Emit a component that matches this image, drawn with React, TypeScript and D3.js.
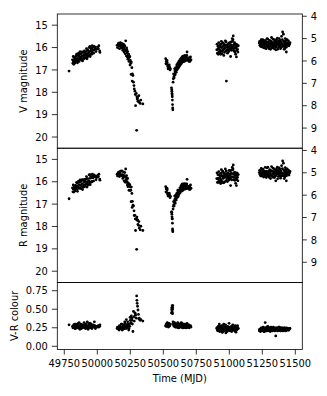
import React from "react";
import * as d3 from "d3";

// one row per night in each observing season: MJD, V and R magnitude (null = no R frame)
const s1Mjd = [
  49786, 49812, 49815, 49820, 49825, 49828, 49832, 49836, 49840, 49845, 49848, 49852, 49856, 49860, 49864, 49868,
  49872, 49876, 49880, 49884, 49888, 49892, 49896, 49900, 49904, 49908, 49912, 49916, 49920, 49924, 49928, 49932,
  49936, 49940, 49944, 49948, 49952, 49956, 49960, 49964, 49968, 49975, 49982, 49990, 50003, 50008, 50018,
  49818, 49822, 49830, 49838, 49843, 49850, 49858, 49862, 49870, 49878, 49886, 49894, 49902, 49910, 49918, 49922,
  49930, 49938, 49946, 49950, 49958, 49962, 49972, 49978, 49986, 49995, 50012, 50020,
];
const s1V = [
  17.05, 16.55, 16.7, 16.62, 16.45, 16.58, 16.68, 16.4, 16.52, 16.6, 16.35, 16.47, 16.55, 16.38, 16.3, 16.5,
  16.42, 16.28, 16.45, 16.36, 16.6, 16.22, 16.4, 16.32, 16.48, 16.25, 16.35, 16.18, 16.3, 16.42, 16.12, 16.26,
  16.2, 16.34, 15.95, 16.15, 16.28, 16.08, 16.22, 16.0, 16.12, 15.95, 16.05, 16.18, 15.98, 16.05, 16.15,
  16.4, 16.75, 16.5, 16.62, 16.3, 16.68, 16.25, 16.62, 16.18, 16.55, 16.2, 16.52, 16.15, 16.45, 16.05, 16.5,
  16.38, 16.0, 16.4, 16.02, 16.3, 15.92, 16.25, 16.1, 15.98, 16.08, 15.92, 16.22,
];
const s1R = [
  16.76, 16.28, 16.45, 16.34, 16.19, 16.28, 16.41, 16.16, 16.24, 16.34, 16.06, 16.2, 16.24, 16.13, 16.02, 16.27,
  16.15, 15.98, 16.19, 16.08, 16.35, 15.93, 16.13, 16.0, 16.22, 15.97, 16.11, 15.88, 16.03, 16.09, 15.86, 15.98,
  15.95, 16.05, 15.68, 15.84, 16.02, 15.8, 15.98, 15.73, 15.83, 15.69, 15.77, 15.91, 15.72, 15.77, 15.88,
  16.14, 16.46, 16.26, 16.32, 16.03, 16.43, 15.97, 16.3, 15.92, 16.31, 15.91, 16.25, 15.9, 16.15, 15.77, 16.24,
  16.15, 15.69, 16.13, 15.77, 16.01, 15.66, 15.97, 15.77, 15.74, 15.81, 15.66, 15.93,
];

const s2Mjd = [
  50150, 50158, 50165, 50172, 50178, 50185, 50190, 50195, 50200, 50205, 50210, 50215, 50218, 50222, 50226, 50230,
  50234, 50238, 50242, 50246, 50250, 50254, 50258, 50262, 50266, 50270, 50274, 50280, 50285, 50290, 50295, 50298,
  50300, 50302, 50305, 50308, 50312, 50318, 50330, 50345,
  50153, 50162, 50168, 50175, 50182, 50188, 50193, 50198, 50203, 50208, 50212, 50220, 50224, 50228, 50232, 50240,
  50248, 50256, 50264, 50278, 50288, 50315, 50325,
];
const s2V = [
  15.9, 15.85, 15.92, 15.88, 15.95, 15.82, 16.0, 15.93, 16.05, 15.98, 16.1, 15.7, 16.15, 16.02, 16.25, 16.18,
  16.35, 16.3, 16.45, 16.4, 16.58, 16.7, 16.65, 16.9, 17.18, 17.25, 17.55, 17.85, 17.95, 18.6, 18.05, 19.7,
  18.2, 18.3, 18.25, 18.4, 18.38, 18.45, 18.35, 18.52,
  16.0, 15.8, 16.05, 15.78, 16.02, 15.9, 16.12, 15.85, 16.2, 15.92, 16.28, 16.38, 16.1, 16.42, 16.52, 16.62,
  16.78, 17.2, 17.5, 17.7, 18.1, 18.15, 18.5,
];
const s2R = [
  15.66, 15.6, 15.7, 15.61, 15.71, 15.52, 15.74, 15.7, 15.77, 15.73, 15.79, 15.43, 15.91, 15.73, 15.99, 15.85,
  16.07, 16.08, 16.15, 16.13, 16.23, 16.38, 16.24, 16.52, 16.88, 17.05, 17.08, 17.51, 17.5, 18.18, 17.67, 19.02,
  17.58, 17.72, 17.71, 17.91, 17.95, 18.07, 17.99, 18.18,
  15.74, 15.57, 15.77, 15.53, 15.72, 15.68, 15.85, 15.56, 15.96, 15.59, 16.02, 16.02, 15.85, 16.14, 16.22, 16.38,
  16.39, 16.89, 17.15, 17.3, 17.66, 17.78, 18.15,
];

const s3Mjd = [
  50518, 50522, 50526, 50530, 50534, 50538, 50542, 50548, 50554, 50562, 50564, 50566, 50568, 50569, 50570, 50571,
  50572, 50576, 50580, 50584, 50588, 50592, 50596, 50600, 50604, 50608, 50612, 50616, 50620, 50624, 50628, 50632,
  50636, 50640, 50644, 50648, 50652, 50656, 50660, 50664, 50668, 50672, 50676, 50680, 50684, 50690, 50696, 50702,
  50710,
  50520, 50528, 50536, 50545, 50551, 50565, 50567, 50574, 50578, 50582, 50586, 50590, 50594, 50598, 50602, 50606,
  50610, 50614, 50618, 50622, 50626, 50630, 50634, 50638, 50642, 50646, 50650, 50654, 50658, 50662, 50666, 50670,
  50674, 50678, 50686, 50694, 50700, 50706,
];
const s3V = [
  16.5, 16.62, 16.75, 16.68, 16.85, 16.8, 16.92, 16.88, 16.95, 17.8, 17.88, 18.05, 18.2, 18.35, 18.55, 18.7,
  18.78, 17.4, 17.3, 17.2, 17.05, 17.12, 16.98, 17.0, 16.88, 16.8, 16.92, 16.75, 16.85, 16.68, 16.78, 16.62,
  16.72, 16.58, 16.66, 16.5, 16.62, 16.55, 16.45, 16.6, 16.52, 16.4, 16.55, 16.2, 16.48, 16.58, 16.45, 16.62,
  16.55,
  16.72, 16.58, 16.95, 16.78, 17.0, 17.95, 18.12, 17.55, 17.18, 17.35, 16.95, 17.22, 16.9, 17.1, 16.78, 16.98,
  16.7, 16.88, 16.62, 16.8, 16.55, 16.7, 16.48, 16.65, 16.42, 16.6, 16.38, 16.52, 16.62, 16.35, 16.48, 16.58,
  16.45, 16.35, 16.55, 16.62, 16.5, 16.42,
];
const s3R = [
  16.22, 16.32, 16.48, 16.36, 16.56, 16.54, 16.61, 16.6, 16.65, 17.35, 17.36, 17.57, 17.65, 17.85, 18.11, 18.18,
  18.23, 17.1, 17.02, 16.88, 16.78, 16.82, 16.72, 16.71, 16.61, 16.49, 16.67, 16.47, 16.55, 16.42, 16.49, 16.35,
  16.4, 16.3, 16.41, 16.21, 16.35, 16.25, 16.19, 16.32, 16.27, 16.11, 16.28, 15.89, 16.22, 16.3, 16.2, 16.35,
  16.29,
  16.45, 16.29, 16.64, 16.51, 16.71, 17.45, 17.66, 17.22, 16.89, 17.08, 16.64, 16.96, 16.6, 16.82, 16.52, 16.69,
  16.38, 16.61, 16.37, 16.5, 16.27, 16.44, 16.19, 16.38, 16.11, 16.34, 16.1, 16.27, 16.33, 16.08, 16.18, 16.32,
  16.17, 16.1, 16.28, 16.33, 16.24, 16.14,
];

const s4Mjd = [
  50905, 50910, 50914, 50918, 50922, 50926, 50930, 50934, 50938, 50942, 50946, 50950, 50954, 50958, 50962, 50966,
  50970, 50974, 50978, 50982, 50986, 50990, 50994, 50998, 51002, 51006, 51010, 51014, 51018, 51022, 51026, 51030,
  51034, 51038, 51042, 51046, 51050, 51054, 51058, 51062, 51068,
  50907, 50912, 50916, 50920, 50924, 50928, 50932, 50936, 50940, 50944, 50948, 50952, 50956, 50960, 50964, 50968,
  50972, 50976, 50980, 50984, 50988, 50992, 50996, 51000, 51004, 51008, 51012, 51016, 51020, 51024, 51028, 51032,
  51036, 51040, 51044, 51048, 51052, 51056, 51060, 51065,
];
const s4V = [
  16.1, 16.25, 15.95, 16.05, 16.2, 15.9, 16.12, 16.3, 15.85, 16.0, 16.18, 15.78, 16.08, 16.35, 15.92, 16.02,
  15.7, 16.15, 17.5, 15.88, 16.25, 15.98, 16.1, 15.8, 16.05, 15.92, 16.4, 15.75, 16.12, 15.6, 15.95, 15.48,
  16.05, 15.85, 16.2, 15.9, 16.02, 16.42, 15.95, 16.08, 15.92,
  15.85, 16.08, 16.3, 15.78, 16.0, 16.22, 15.98, 16.15, 15.72, 16.28, 15.95, 16.12, 15.82, 16.05, 16.22, 15.88,
  16.0, 15.75, 16.12, 15.95, 16.08, 15.85, 16.18, 15.95, 15.78, 16.1, 15.98, 15.88, 16.02, 15.72, 15.65, 15.92,
  16.15, 15.78, 16.0, 16.3, 15.85, 16.12, 15.88, 16.2,
];
const s4R = [
  15.86, 16.03, 15.69, 15.84, 15.95, 15.67, 15.85, 16.08, 15.61, 15.72, 15.99, 15.53, 15.85, 16.05, 15.7, 15.78,
  15.43, 15.97, null, 15.65, 15.99, 15.76, 15.86, 15.49, 15.84, 15.67, 16.17, 15.49, 15.92, 15.36, 15.66, 15.25,
  15.8, 15.63, 15.94, 15.66, 15.83, 16.17, 15.72, 15.8, 15.68,
  15.6, 15.87, 16.03, 15.55, 15.7, 16.02, 15.74, 15.93, 15.46, 16.05, 15.76, 15.84, 15.6, 15.8, 16.01, 15.64,
  15.71, 15.53, 15.87, 15.75, 15.81, 15.62, 15.93, 15.73, 15.52, 15.86, 15.77, 15.61, 15.79, 15.47, 15.43, 15.66,
  15.91, 15.57, 15.72, 16.07, 15.6, 15.9, 15.61, 15.96,
];

const s5Mjd = [
  51227, 51232, 51236, 51240, 51244, 51248, 51252, 51256, 51260, 51264, 51268, 51272, 51276, 51280, 51284, 51288,
  51292, 51296, 51300, 51304, 51308, 51312, 51316, 51320, 51324, 51328, 51332, 51336, 51340, 51344, 51348, 51352,
  51356, 51360, 51364, 51368, 51372, 51376, 51380, 51384, 51388, 51392, 51396, 51400, 51404, 51408, 51412, 51416,
  51420, 51424, 51428, 51432, 51436, 51440, 51448, 51456,
  51230, 51238, 51242, 51246, 51250, 51254, 51258, 51262, 51266, 51270, 51274, 51278, 51282, 51286, 51290, 51294,
  51298, 51302, 51306, 51310, 51314, 51318, 51322, 51326, 51330, 51334, 51338, 51342, 51346, 51350, 51354, 51358,
  51362, 51366, 51370, 51374, 51378, 51382, 51386, 51390, 51394, 51398, 51402, 51406, 51410, 51414, 51418, 51422,
  51426, 51430, 51434, 51438, 51444, 51452, 51460,
];
const s5V = [
  15.8, 15.9, 15.75, 15.85, 15.95, 15.7, 15.88, 15.78, 16.0, 15.82, 15.92, 15.68, 15.85, 16.05, 15.75, 15.9,
  15.62, 15.85, 15.98, 15.72, 15.88, 16.08, 15.8, 15.55, 15.92, 15.78, 16.02, 15.85, 15.65, 15.95, 15.82, 16.1,
  15.75, 15.9, 15.58, 15.85, 16.0, 15.78, 15.92, 15.68, 16.05, 15.82, 15.5, 15.88, 15.3, 15.95, 15.72, 16.08,
  15.85, 15.6, 15.92, 16.2, 15.78, 15.88, 15.7, 15.85,
  15.72, 15.95, 15.65, 15.82, 15.98, 15.65, 15.88, 15.72, 16.02, 15.8, 15.95, 15.75, 15.9, 15.6, 15.98, 15.78,
  15.92, 16.05, 15.68, 15.85, 15.95, 15.72, 16.0, 15.88, 15.62, 15.92, 15.78, 16.05, 15.7, 15.88, 15.98, 15.65,
  15.82, 16.08, 15.72, 15.9, 15.6, 15.85, 15.95, 15.75, 16.0, 15.82, 15.65, 15.88, 15.4, 15.92, 15.78, 16.02,
  15.7, 15.85, 15.98, 15.65, 15.82, 15.92, 15.78,
];
const s5R = [
  15.59, 15.68, 15.55, 15.62, 15.74, 15.46, 15.66, 15.52, 15.79, 15.59, 15.72, 15.36, 15.63, 15.81, 15.54, 15.67,
  15.35, 15.63, 15.73, 15.51, 15.64, 15.86, 15.54, 15.32, 15.71, 15.54, 15.8, 15.6, 15.42, 15.74, 15.58, 15.96,
  15.53, 15.65, 15.35, 15.64, 15.76, 15.56, 15.66, 15.45, 15.84, 15.58, 15.28, 15.63, 15.07, 15.74, 15.48, 15.86,
  15.6, 15.37, 15.71, 15.96, 15.56, 15.65, 15.48, 15.61,
  15.49, 15.74, 15.4, 15.6, 15.74, 15.44, 15.65, 15.52, 15.77, 15.58, 15.71, 15.54, 15.64, 15.38, 15.74, 15.57,
  15.69, 15.8, 15.46, 15.65, 15.71, 15.5, 15.75, 15.67, 15.39, 15.66, 15.56, 15.81, 15.49, 15.65, 15.73, 15.43,
  15.58, 15.87, 15.49, 15.64, 15.38, 15.61, 15.74, 15.52, 15.75, 15.6, 15.41, 15.67, 15.17, 15.67, 15.56, 15.78,
  15.49, 15.62, 15.73, 15.43, 15.58, 15.7, 15.54,
];

// apparent minus absolute magnitude used for the right-hand axes
const distanceOffset = 10.6;

const magTicks = [15, 16, 17, 18, 19, 20];
const absTicks = [4, 5, 6, 7, 8, 9];
const colourTicks = [0, 0.25, 0.5, 0.75];
const timeTicks = [49750, 50000, 50250, 50500, 50750, 51000, 51250, 51500];

const font = "'DejaVu Sans', sans-serif";
const fs = 9.9;

const LeftAxis = ({ scale, ticks, fmt, x0 }) => (
  <g>
    {ticks.map((t) => (
      <g key={t}>
        <line x1={x0 - 5.5} x2={x0} y1={scale(t)} y2={scale(t)} stroke="#000" strokeWidth={0.8} />
        <text x={x0 - 9.5} y={scale(t) + 3.6} textAnchor="end" fontSize={fs} fontFamily={font} fill="#000">
          {fmt(t)}
        </text>
      </g>
    ))}
  </g>
);

const RightAxis = ({ scale, ticks, x0 }) => (
  <g>
    {ticks.map((t) => (
      <g key={t}>
        <line x1={x0} x2={x0 + 4.5} y1={scale(t)} y2={scale(t)} stroke="#000" strokeWidth={0.8} />
        <text x={x0 + 8.5} y={scale(t) + 3.6} textAnchor="start" fontSize={fs} fontFamily={font} fill="#000">
          {t}
        </text>
      </g>
    ))}
  </g>
);

export default function App() {
  const width = 327;
  const height = 396;
  const left = 57.3;
  const right = 302.3;
  const rows = [14, 148.2, 282.4, 349.5];

  const mjd = [...s1Mjd, ...s2Mjd, ...s3Mjd, ...s4Mjd, ...s5Mjd];
  const vMag = [...s1V, ...s2V, ...s3V, ...s4V, ...s5V];
  const rMag = [...s1R, ...s2R, ...s3R, ...s4R, ...s5R];

  const x = d3.scaleLinear().domain([49697, 51553]).range([left, right]);
  const yV = d3.scaleLinear().domain([14.5, 20.5]).range([rows[0], rows[1]]);
  const yR = d3.scaleLinear().domain([14.5, 20.5]).range([rows[1], rows[2]]);
  const yVAbs = d3.scaleLinear().domain([14.5 - distanceOffset, 20.5 - distanceOffset]).range([rows[0], rows[1]]);
  const yRAbs = d3.scaleLinear().domain([14.5 - distanceOffset, 20.5 - distanceOffset]).range([rows[1], rows[2]]);
  const yC = d3.scaleLinear().domain([-0.043, 0.862]).range([rows[3], rows[2]]);

  const vPts = mjd.map((t, i) => ({ t, m: vMag[i] }));
  const rPts = mjd.map((t, i) => ({ t, m: rMag[i] })).filter((d) => d.m != null);
  // colour only where both filters were observed
  const cPts = mjd
    .map((t, i) => ({ t, c: rMag[i] == null ? null : vMag[i] - rMag[i] }))
    .filter((d) => d.c != null);

  const r = 1.4;

  return (
    <div style={{ position: "absolute", left: 0, top: 0 }}>
      <svg width={width} height={height} style={{ display: "block", background: "#fff" }}>
        {vPts.map((d, i) => (
          <circle key={`v${i}`} cx={x(d.t)} cy={yV(d.m)} r={r} fill="#000" />
        ))}
        {rPts.map((d, i) => (
          <circle key={`r${i}`} cx={x(d.t)} cy={yR(d.m)} r={r} fill="#000" />
        ))}
        {cPts.map((d, i) => (
          <circle key={`c${i}`} cx={x(d.t)} cy={yC(d.c)} r={r} fill="#000" />
        ))}

        {/* frames */}
        {[0, 1, 2].map((k) => (
          <rect
            key={k}
            x={left}
            y={rows[k]}
            width={right - left}
            height={rows[k + 1] - rows[k]}
            fill="none"
            stroke="#000"
            strokeWidth={0.8}
          />
        ))}

        <LeftAxis scale={yV} ticks={magTicks} fmt={(t) => t} x0={left} />
        <LeftAxis scale={yR} ticks={magTicks} fmt={(t) => t} x0={left} />
        <LeftAxis scale={yC} ticks={colourTicks} fmt={d3.format(".2f")} x0={left} />
        <RightAxis scale={yVAbs} ticks={absTicks} x0={right} />
        <RightAxis scale={yRAbs} ticks={absTicks} x0={right} />

        {/* time axis */}
        {timeTicks.map((t) => (
          <g key={t}>
            <line x1={x(t)} x2={x(t)} y1={rows[3]} y2={rows[3] + 5} stroke="#000" strokeWidth={0.8} />
            <text x={x(t)} y={rows[3] + 17} textAnchor="middle" fontSize={fs} fontFamily={font} fill="#000">
              {t}
            </text>
          </g>
        ))}

        <text x={(left + right) / 2} y={381.5} textAnchor="middle" fontSize={fs} fontFamily={font} fill="#000">
          Time (MJD)
        </text>
        {[
          ["V magnitude", 24, (rows[0] + rows[1]) / 2],
          ["R magnitude", 24, (rows[1] + rows[2]) / 2],
          ["V-R colour", 15, (rows[2] + rows[3]) / 2],
        ].map(([label, lx, cy]) => (
          <text
            key={label}
            transform={`translate(${lx},${cy}) rotate(-90)`}
            dy="0.35em"
            textAnchor="middle"
            fontSize={fs}
            fontFamily={font}
            fill="#000"
          >
            {label}
          </text>
        ))}
      </svg>
    </div>
  );
}
